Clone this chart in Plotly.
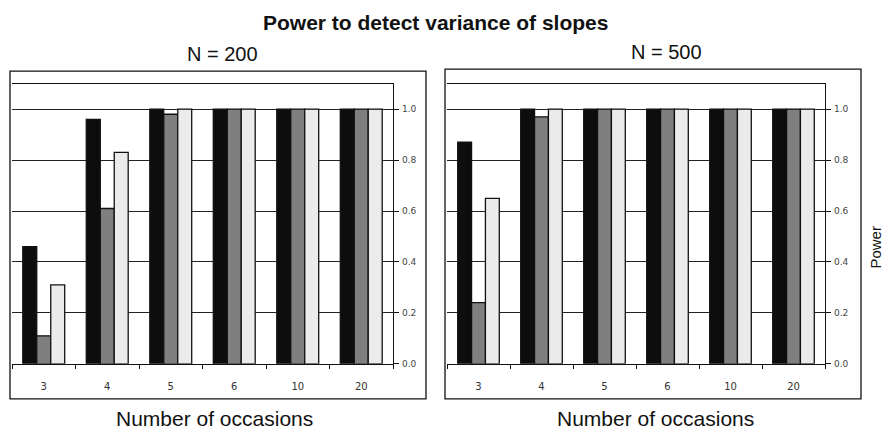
import plotly.graph_objects as go

# ---- data ----
occasions = ["3", "4", "5", "6", "10", "20"]
n200_black = [0.46, 0.96, 1.0, 1.0, 1.0, 1.0]
n200_gray = [0.11, 0.61, 0.98, 1.0, 1.0, 1.0]
n200_light = [0.31, 0.83, 1.0, 1.0, 1.0, 1.0]
n500_black = [0.87, 1.0, 1.0, 1.0, 1.0, 1.0]
n500_gray = [0.24, 0.97, 1.0, 1.0, 1.0, 1.0]
n500_light = [0.65, 1.0, 1.0, 1.0, 1.0, 1.0]
y_ticks = [0.0, 0.2, 0.4, 0.6, 0.8, 1.0]
y_ticklabels = ["0.0", "0.2", "0.4", "0.6", "0.8", "1.0"]

W, H = 888, 429
FIG_H = 435  # page height that the capture squeezes into the 429-pixel picture
def px(x):
    return x / W
def py(y):
    return (H - y) / H

colors = ["#0d0d0d", "#7f7f7f", "#ebebeb"]
fig = go.Figure()
panels = [
    ("x", "y", [n200_black, n200_gray, n200_light]),
    ("x2", "y2", [n500_black, n500_gray, n500_light]),
]
for xa, ya, series in panels:
    for vals, col in zip(series, colors):
        fig.add_trace(go.Bar(
            x=occasions, y=vals, xaxis=xa, yaxis=ya,
            marker=dict(color=col, line=dict(color="#111111", width=1.3)),
            showlegend=False, hoverinfo="x+y"))

ydom = [py(363), py(83.5)]
common_x = dict(type="category", showline=True, linecolor="#111111", linewidth=1.3,
                mirror=True, ticks="outside", tickson="boundaries", ticklen=4,
                tickcolor="#111111", tickwidth=1.2, showgrid=False,
                tickfont=dict(family="DejaVu Sans", size=10, color="#333333"),
                ticklabelstandoff=13, fixedrange=True)
common_y = dict(range=[0, 1.1], side="right", showline=True, linecolor="#111111",
                linewidth=1.3, ticks="outside", ticklen=5, tickcolor="#111111",
                tickwidth=1.2, tickvals=y_ticks, ticktext=y_ticklabels,
                showgrid=True, gridcolor="#222222", gridwidth=1.3, zeroline=False,
                tickfont=dict(family="DejaVu Sans", size=9, color="#444444"),
                ticklabelstandoff=1, domain=ydom, fixedrange=True)

fig.update_layout(
    width=W, height=FIG_H, margin=dict(l=0, r=0, t=0, b=0),
    paper_bgcolor="white", plot_bgcolor="white",
    barmode="group", bargap=0.34, bargroupgap=0,
    xaxis=dict(domain=[px(12), px(393)], anchor="y", **common_x),
    yaxis=dict(anchor="x", **common_y),
    xaxis2=dict(domain=[px(447), px(825)], anchor="y2", **common_x),
    yaxis2=dict(anchor="x2", **common_y),
    shapes=[
        dict(type="rect", xref="paper", yref="paper", x0=px(10), x1=px(426),
             y0=py(398), y1=py(71), line=dict(color="#111111", width=1.3)),
        dict(type="rect", xref="paper", yref="paper", x0=px(445), x1=px(861),
             y0=py(398), y1=py(69), line=dict(color="#111111", width=1.3)),
    ],
    annotations=[
        dict(text="<b>Power to detect variance of slopes</b>", x=px(435), y=py(22),
             xref="paper", yref="paper", showarrow=False, xanchor="center", yanchor="middle",
             font=dict(family="Liberation Sans, Arial", size=21, color="#111111")),
        dict(text="N = 200", x=px(222), y=py(54), xref="paper", yref="paper",
             showarrow=False, xanchor="center", yanchor="middle",
             font=dict(family="Liberation Sans, Arial", size=20, color="#111111")),
        dict(text="N = 500", x=px(666), y=py(52), xref="paper", yref="paper",
             showarrow=False, xanchor="center", yanchor="middle",
             font=dict(family="Liberation Sans, Arial", size=20, color="#111111")),
        dict(text="Number of occasions", x=px(214), y=py(418), xref="paper", yref="paper",
             showarrow=False, xanchor="center", yanchor="middle",
             font=dict(family="Liberation Sans, Arial", size=21, color="#111111")),
        dict(text="Number of occasions", x=px(655), y=py(418), xref="paper", yref="paper",
             showarrow=False, xanchor="center", yanchor="middle",
             font=dict(family="Liberation Sans, Arial", size=21, color="#111111")),
        dict(text="Power", x=px(876), y=py(247), xref="paper", yref="paper",
             showarrow=False, xanchor="center", yanchor="middle", textangle=-90,
             font=dict(family="Liberation Sans, Arial", size=15, color="#111111")),
    ],
)

fig.write_html(
    "out.html",
    config={"displayModeBar": False},
    post_script=(
        "var h=document.documentElement,b=document.body;"
        "h.style.margin='0';h.style.padding='0';h.style.overflow='hidden';"
        "b.style.margin='0';b.style.padding='0';b.style.overflow='hidden';"
    ),
)
